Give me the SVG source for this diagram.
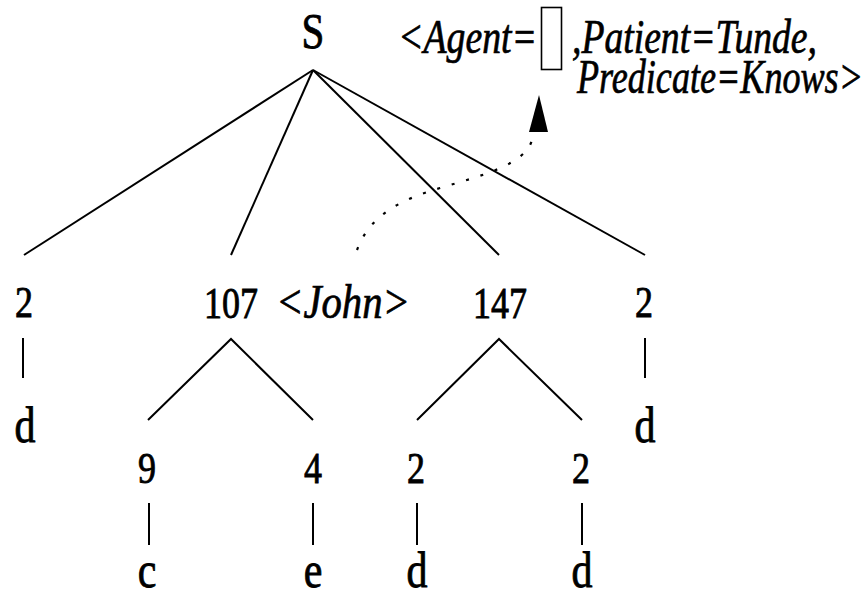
<svg xmlns="http://www.w3.org/2000/svg" width="867" height="593" viewBox="0 0 867 593">
  <style>
    .rm { font-family: "Liberation Serif", "Times New Roman", serif; fill: #000; stroke: #000; stroke-width: 0.7px; text-anchor: middle; }
    .num { font-size: 36px; }
    .root { font-size: 41px; }
    .leaf { font-size: 42px; }
    .it { font-family: "Liberation Serif", "Times New Roman", serif; font-style: italic; font-size: 40px; fill: #000; stroke: #000; stroke-width: 0.6px; }
    .edge { stroke: #000; stroke-width: 2; fill: none; stroke-linecap: butt; }
    .link { stroke: #000; stroke-width: 2.2; fill: none; stroke-dasharray: 3 12; }
  </style>
  <rect width="867" height="593" fill="#fff"/>

  <!-- tree edges and the dotted link -->
  <g id="connectors">
    <line class="edge" x1="313" y1="70" x2="24" y2="255"/>
    <line class="edge" x1="313" y1="70" x2="231" y2="255"/>
    <line class="edge" x1="313" y1="70" x2="499" y2="255"/>
    <line class="edge" x1="313" y1="70" x2="645" y2="255"/>
    <line class="edge" x1="23" y1="338" x2="23" y2="378"/>
    <line class="edge" x1="645" y1="338" x2="645" y2="378"/>
    <polyline class="edge" points="148,420 231,339 313,420"/>
    <polyline class="edge" points="417,420 499,339 582,420"/>
    <line class="edge" x1="149" y1="503" x2="149" y2="545"/>
    <line class="edge" x1="313" y1="503" x2="313" y2="545"/>
    <line class="edge" x1="417" y1="503" x2="417" y2="545"/>
    <line class="edge" x1="582" y1="503" x2="582" y2="545"/>
    <path class="link" d="M357,250 C370,215 400,200 440,188 S525,165 532,140"/>
    <polygon points="539,95 529,132 548,132" fill="#000"/>
  </g>

  <!-- frame label with empty agent slot -->
  <g id="frame">
    <text class="it" transform="translate(398,53) scale(1,1.2)" textLength="139" lengthAdjust="spacingAndGlyphs">&lt;Agent=</text>
    <rect x="541.5" y="7.5" width="20" height="62" fill="none" stroke="#000" stroke-width="1.6"/>
    <text class="it" transform="translate(572,53) scale(1,1.2)" textLength="245" lengthAdjust="spacingAndGlyphs">,Patient=Tunde,</text>
    <text class="it" transform="translate(577,93) scale(1,1.2)" textLength="286" lengthAdjust="spacingAndGlyphs">Predicate=Knows&gt;</text>
  </g>

  <g id="n-S"><text class="rm root" transform="translate(313,48) scale(1,1.22)">S</text></g>

  <g id="n-2a"><text class="rm num" transform="translate(24,317) scale(1,1.22)">2</text></g>
  <g id="n-107">
    <text class="rm num" transform="translate(231,318) scale(1,1.22)">107</text>
    <text class="it" transform="translate(276,318) scale(1,1.2)" textLength="134" lengthAdjust="spacingAndGlyphs">&lt;John&gt;</text>
  </g>
  <g id="n-147"><text class="rm num" transform="translate(500,318) scale(1,1.22)">147</text></g>
  <g id="n-2b"><text class="rm num" transform="translate(644,317) scale(1,1.22)">2</text></g>

  <g id="n-d1"><text class="rm leaf" transform="translate(25,442) scale(1,1.22)">d</text></g>
  <g id="n-d2"><text class="rm leaf" transform="translate(645,442) scale(1,1.22)">d</text></g>

  <g id="n-9"><text class="rm num" transform="translate(147,483) scale(1,1.22)">9</text></g>
  <g id="n-4"><text class="rm num" transform="translate(313,483) scale(1,1.22)">4</text></g>
  <g id="n-2c"><text class="rm num" transform="translate(416,483) scale(1,1.22)">2</text></g>
  <g id="n-2d"><text class="rm num" transform="translate(581,483) scale(1,1.22)">2</text></g>

  <g id="n-c"><text class="rm leaf" transform="translate(147,587) scale(1,1.22)">c</text></g>
  <g id="n-e"><text class="rm leaf" transform="translate(313,587) scale(1,1.22)">e</text></g>
  <g id="n-d3"><text class="rm leaf" transform="translate(417,587) scale(1,1.22)">d</text></g>
  <g id="n-d4"><text class="rm leaf" transform="translate(582,587) scale(1,1.22)">d</text></g>
</svg>
